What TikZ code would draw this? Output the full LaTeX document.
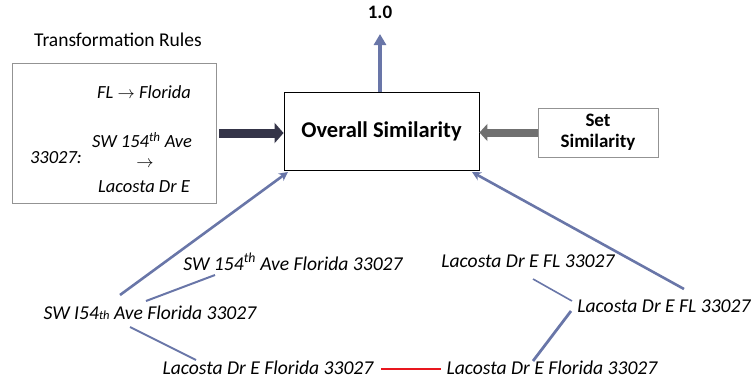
\documentclass[tikz,border=0pt]{standalone}
\usepackage{fontspec}
\setmainfont{Carlito}
\usetikzlibrary{arrows.meta}
\definecolor{slate}{RGB}{105,118,168}
\definecolor{darknavy}{RGB}{52,52,72}
\definecolor{arrgray}{RGB}{112,112,112}
\definecolor{redline}{RGB}{232,22,30}
\tikzset{
  lbl/.style={inner sep=0pt, font=\fontsize{19.6}{21}\selectfont\itshape},
  rule/.style={inner sep=0pt, font=\fontsize{18.5}{20}\selectfont\itshape},
  mainbox/.style={draw=black, line width=0.9pt},
  sidebox/.style={draw=gray!85, line width=1pt},
  blueline/.style={draw=slate, line width=2pt},
  bluearrow/.style={draw=slate, line width=2.6pt, -{Stealth[length=9pt,width=9pt]}},
}
\begin{document}
\begin{tikzpicture}[x=1pt,y=-1pt]
\useasboundingbox (0,0) rectangle (753,381);
% top
\node[inner sep=0pt, font=\fontsize{19}{21}\selectfont\bfseries] (one) at (380,12) {1.0};
% Overall box
\node[mainbox, minimum width=195pt, minimum height=78pt, inner sep=0pt,
      font=\fontsize{22.5}{24}\selectfont\bfseries] (overall) at (381.5,131) {Overall Similarity};
\coordinate (uptip) at (380,34);
\draw[draw=slate, line width=4pt, -{Triangle[length=11pt,width=12pt]}] (overall.north -| uptip) -- (uptip);
% transformation rules
\node[inner sep=0pt, font=\fontsize{19.5}{21}\selectfont] (trtitle) at (118,40) {Transformation Rules};
\node[sidebox, minimum width=204pt, minimum height=140pt, inner sep=0pt] (trbox) at (114,133) {};
\node[rule] (r1) at (144,92) {FL $\rightarrow$ Florida};
\node[rule] (r2) at (142,140) {SW 154\textsuperscript{th} Ave};
\node[rule] (r3) at (145,164) {$\rightarrow$};
\node[rule] (r4) at (144,187) {Lacosta Dr E};
\node[rule] (r5) at (56,158) {33027:};
\draw[draw=darknavy, line width=9pt, -{Triangle[length=9pt,width=20pt]}] (219,133) -- (overall.west |- 0,133);
% set similarity
\node[sidebox, minimum width=120pt, minimum height=49pt, inner sep=0pt, align=center,
      font=\fontsize{19}{21.5}\selectfont\bfseries] (setsim) at (598,132.5) {Set\\Similarity};
\draw[draw=arrgray, line width=8pt, -{Triangle[length=8pt,width=17pt]}] (setsim.west) -- (overall.east |- setsim.west);
% left cluster
\node[lbl] (la) at (293,262) {SW 154\textsuperscript{th} Ave Florida 33027};
\node[lbl] (lb) at (150,313) {SW I54{\fontsize{12.5}{14}\selectfont th} Ave Florida 33027};
\node[lbl] (lc) at (268,368) {Lacosta Dr E Florida 33027};
% right cluster
\node[lbl] (ra) at (528,261) {Lacosta Dr E FL 33027};
\node[lbl] (rb) at (664,306) {Lacosta Dr E FL 33027};
\node[lbl] (rc) at (552,368) {Lacosta Dr E Florida 33027};
% connectors
\coordinate (lbtop) at (120,295);
\coordinate (lbmid) at (146,301);
\coordinate (latail) at (215,275);
\coordinate (lbbot) at (130,327);
\coordinate (lctop) at (196,360);
\coordinate (otl) at (288,172);
\coordinate (otr) at (472,172);
\coordinate (rbtop) at (684,289);
\coordinate (ratail) at (533,279);
\coordinate (rbl) at (572,301);
\coordinate (rbl2) at (571,311);
\coordinate (rctop) at (533,361);
\coordinate (redA) at (381,369);
\coordinate (redB) at (441,369);
\draw[bluearrow] (lbtop) -- (otl);
\draw[bluearrow] (rbtop) -- (otr);
\draw[blueline] (lbmid) -- (latail);
\draw[blueline] (lbbot) -- (lctop);
\draw[blueline, line width=1.6pt] (ratail) -- (rbl);
\draw[blueline, line width=2.8pt] (rbl2) -- (rctop);
\draw[draw=redline, line width=2.5pt] (redA) -- (redB);
\end{tikzpicture}
\end{document}
